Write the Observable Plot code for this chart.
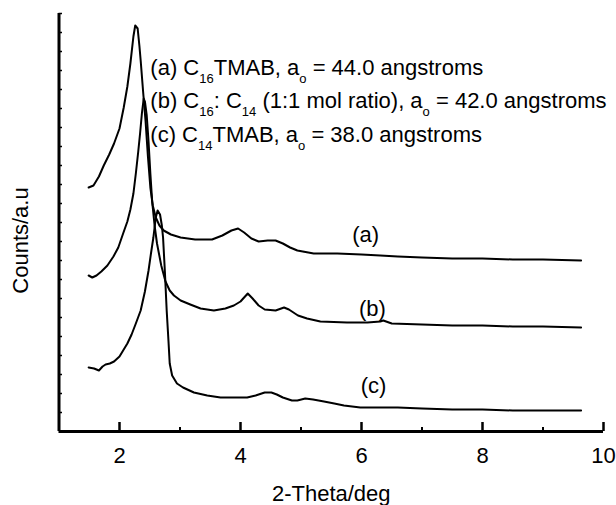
<!DOCTYPE html>
<html>
<head>
<meta charset="utf-8">
<script src="https://cdn.jsdelivr.net/npm/d3@7"></script>
<script src="https://cdn.jsdelivr.net/npm/@observablehq/plot@0.6"></script>
<style>
  html, body { margin: 0; padding: 0; background: #fff; }
  #chart svg { display: block; }
</style>
</head>
<body>
<div id="chart"></div>
<script>
// ---------- data (2-theta in degrees, counts in arbitrary units) ----------
const thetaA = [1.49,1.57,1.66,1.74,1.83,1.91,2.00,2.07,2.13,2.18,2.23,2.26,2.30,2.33,2.35,2.39,2.43,2.47,2.51,2.55,2.60,2.66,2.73,2.85,3.01,3.25,3.53,3.70,3.85,3.96,4.06,4.18,4.30,4.45,4.58,4.70,4.82,4.94,5.21,5.60,6.00,6.31,6.60,7.00,7.50,8.00,8.50,9.00,9.63];
const countsA = [244,246,255,266,277,288,303,324,345,368,395,406,403,385,371,340,311,275,244,226,214,206,201,197,194,192,192,196,201,203,199,193,190,191,191,188,184,181,178,178,177,176,175,174,173,173,172,172,171];

const thetaB = [1.49,1.55,1.62,1.70,1.80,1.90,1.98,2.06,2.13,2.18,2.23,2.27,2.31,2.34,2.37,2.40,2.42,2.45,2.48,2.51,2.54,2.58,2.62,2.69,2.76,2.83,2.90,3.01,3.17,3.34,3.56,3.75,3.89,4.00,4.12,4.20,4.30,4.40,4.58,4.72,4.80,4.95,5.10,5.32,5.76,6.10,6.31,6.36,6.50,7.00,7.50,8.00,8.50,9.00,9.63];
const countsB = [156,154,156,160,166,175,184,198,210,222,238,258,280,298,318,333,330,316,290,258,230,206,188,166,150,141,136,131,127,123,121,123,126,130,138,133,126,122,121,124,122,116,113,110,109,109,110,111,108,107,106,106,105,105,104];

const thetaC = [1.49,1.58,1.66,1.72,1.77,1.84,1.91,2.00,2.07,2.13,2.20,2.27,2.35,2.42,2.48,2.52,2.56,2.60,2.63,2.67,2.70,2.72,2.75,2.78,2.81,2.83,2.87,2.95,3.05,3.23,3.45,3.67,3.90,4.11,4.25,4.40,4.51,4.60,4.70,4.85,4.94,5.07,5.20,5.38,5.55,5.71,5.98,6.31,6.60,7.00,7.50,8.00,8.50,9.00,9.63];
const countsC = [64,63,61,65,67,68,70,75,82,88,97,108,121,140,161,178,194,214,221,217,206,194,160,121,90,68,56,48,44,39,36,34,34,34,36,39,39,37,34,31,31,33,32,30,28,26,24,24,24,23,22,22,21,21,21];

const seriesNames = ["(a)", "(b)", "(c)"];
const xMajorTicks = [2, 4, 6, 8, 10];
const xMinorTicks = [3, 5, 7, 9];
const xDomain = [1, 10];
const yDomain = [0, 418];
const yTickStep = 19;
const legendLines = [
  "(a) C_{16}TMAB, a_{o} = 44.0 angstroms",
  "(b) C_{16}: C_{14} (1:1 mol ratio), a_{o} = 42.0 angstroms",
  "(c) C_{14}TMAB, a_{o} = 38.0 angstroms"
];
const xTitle = "2-Theta/deg";
const yTitle = "Counts/a.u";

// annotation anchors (data coordinates)
const legendAnchors = [
  {text: legendLines[0], theta: 2.51, counts: 357},
  {text: legendLines[1], theta: 2.51, counts: 324},
  {text: legendLines[2], theta: 2.51, counts: 290}
];
const curveLabels = [
  {text: seriesNames[0], theta: 6.07, counts: 190},
  {text: seriesNames[1], theta: 6.18, counts: 116},
  {text: seriesNames[2], theta: 6.20, counts: 39}
];

// ---------- build rows ----------
function rows(name, xs, ys) { return xs.map((x, i) => ({series: name, theta: x, counts: ys[i]})); }
const data = [
  ...rows(seriesNames[0], thetaA, countsA),
  ...rows(seriesNames[1], thetaB, countsB),
  ...rows(seriesNames[2], thetaC, countsC)
];
const yTicks = d3.range(yTickStep, yDomain[1] + 0.1, yTickStep);

// ---------- layout ----------
const W = 616, H = 505;
const mL = 58.5, mR = 13, mT = 13, mB = 74;
const plotW = W - mL - mR, plotH = H - mT - mB;
const yPerPx = (yDomain[1] - yDomain[0]) / plotH;
const xPerPx = (xDomain[1] - xDomain[0]) / plotW;
const FONT = "'Liberation Sans', Arial, Helvetica, sans-serif";
const INK = "#000";

const svg = Plot.plot({
  width: W, height: H,
  marginLeft: mL, marginRight: mR, marginTop: mT, marginBottom: mB,
  x: {domain: xDomain, axis: null},
  y: {domain: yDomain, axis: null},
  style: {fontFamily: FONT, background: "#fff", color: INK},
  marks: [
    // curves
    Plot.line(data, {x: "theta", y: "counts", z: "series", stroke: INK, strokeWidth: 2, strokeLinejoin: "round"}),
    // axis lines
    Plot.ruleY([yDomain[0]], {x1: xDomain[0], x2: xDomain[1], stroke: INK, strokeWidth: 3}),
    Plot.ruleX([xDomain[0]], {y1: yDomain[0], y2: yDomain[1], stroke: INK, strokeWidth: 3}),
    // x ticks (inward)
    Plot.ruleX(xMajorTicks, {x: d => d, y1: yDomain[0], y2: yDomain[0] + 9 * yPerPx, stroke: INK, strokeWidth: 2.5}),
    Plot.ruleX(xMinorTicks, {x: d => d, y1: yDomain[0], y2: yDomain[0] + 4 * yPerPx, stroke: INK, strokeWidth: 2}),
    // y minor ticks (inward)
    Plot.ruleY(yTicks, {y: d => d, x1: xDomain[0], x2: xDomain[0] + 3.5 * xPerPx, stroke: INK, strokeWidth: 1.5}),
    // x tick labels
    Plot.text(xMajorTicks, {x: d => d, y: yDomain[0], text: d => String(d), dy: 31, lineAnchor: "bottom", textAnchor: "middle", fontSize: 22, fill: INK}),
    // axis titles
    Plot.text([xTitle], {frameAnchor: "bottom", text: d => d, dy: 69, lineAnchor: "bottom", textAnchor: "middle", fontSize: 22, fill: INK}),
    Plot.text([yTitle], {frameAnchor: "left", text: d => d, rotate: -90, dx: -31, dy: 18, lineAnchor: "bottom", textAnchor: "middle", fontSize: 22, fill: INK}),
    // legend text block
    Plot.text(legendAnchors, {x: "theta", y: "counts", text: "text", lineAnchor: "bottom", textAnchor: "start", fontSize: 22, fill: INK}),
    // curve labels
    Plot.text(curveLabels, {x: "theta", y: "counts", text: "text", lineAnchor: "bottom", textAnchor: "middle", fontSize: 22, fill: INK})
  ]
});

// convert _{..} markup to real subscripts
const SUB_SHIFT = 8;
d3.select(svg).selectAll("text").each(function () {
  const s = this.textContent;
  if (!s.includes("_{")) return;
  const parts = s.split(/(_\{[^}]*\})/);
  this.textContent = "";
  let wasSub = false;
  for (const p of parts) {
    if (!p) continue;
    const m = p.match(/^_\{([^}]*)\}$/);
    const t = document.createElementNS("http://www.w3.org/2000/svg", "tspan");
    if (m) {
      t.textContent = m[1];
      t.setAttribute("font-size", 13);
      t.setAttribute("dy", wasSub ? 0 : SUB_SHIFT);
      wasSub = true;
    } else {
      t.textContent = p;
      if (wasSub) t.setAttribute("dy", -SUB_SHIFT);
      wasSub = false;
    }
    this.appendChild(t);
  }
  this.setAttribute("style", "white-space: pre");
});

document.getElementById("chart").appendChild(svg);
</script>
</body>
</html>
